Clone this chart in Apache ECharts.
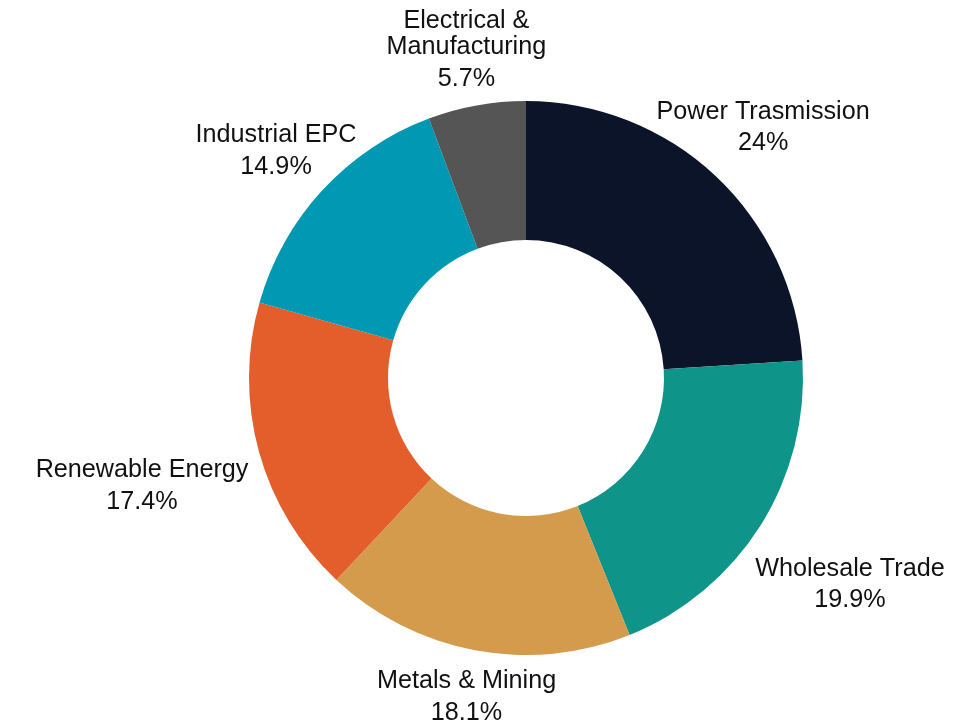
<!DOCTYPE html>
<html>
<head>
<meta charset="utf-8">
<script src="https://cdn.jsdelivr.net/npm/echarts@6/dist/echarts.min.js"></script>
<style>
  html, body { margin: 0; padding: 0; background: #ffffff; }
  #chart { width: 972px; height: 727px; }
</style>
</head>
<body>
<div id="chart"></div>
<script>
const categories = ["Power Trasmission", "Wholesale Trade", "Metals & Mining", "Renewable Energy", "Industrial EPC", "Electrical &\nManufacturing"];
const values = [24, 19.9, 18.1, 17.4, 14.9, 5.7];
const colors = ["#0c1429", "#0e9488", "#d59b4d", "#e45e2b", "#0098b3", "#555555"];

const cx = 526, cy = 378, rOuter = 277, rInner = 138;
const total = values.reduce((a, b) => a + b, 0);
const cum = [];
values.reduce((acc, v, i) => { cum[i] = acc; return acc + v; }, 0);

// small label placement nudges (styling only)
const labelNudge = { 0: [-2, 2], 1: [20, 13], 3: [-2, 0], 4: [3, 4], 5: [0, -1] };

const chart = echarts.init(document.getElementById('chart'), null, { renderer: 'canvas' });
chart.setOption({
  backgroundColor: '#ffffff',
  animation: false,
  series: [{
    type: 'pie',
    center: [cx, cy],
    radius: [rInner, rOuter],
    startAngle: 90,
    clockwise: true,
    avoidLabelOverlap: false,
    data: categories.map((n, i) => ({ name: n, value: values[i], itemStyle: { color: colors[i] } })),
    label: {
      show: true,
      position: 'outside',
      formatter: p => '{n|' + p.name + '}\n{v|' + p.value + '%}',
      rich: {
        n: { align: 'center', fontFamily: 'Liberation Sans, Arial, sans-serif', fontSize: 25.2, lineHeight: 26, color: '#111111' },
        v: { align: 'center', fontFamily: 'Liberation Sans, Arial, sans-serif', fontSize: 25.2, lineHeight: 37, color: '#111111' }
      }
    },
    labelLine: { show: false },
    emphasis: { disabled: true },
    labelLayout: function (p) {
      const i = p.dataIndex;
      const mid = (cum[i] + values[i] / 2) / total * 2 * Math.PI;
      const s = Math.sin(mid), c = Math.cos(mid);
      const w = p.labelRect.width, h = p.labelRect.height;
      const ell = Math.sqrt(Math.pow(s * w / 2, 2) + Math.pow(c * h / 2, 2));
      const ex = Math.min(Math.abs(s) > 1e-6 ? w / 2 / Math.abs(s) : 1e9, Math.abs(c) > 1e-6 ? h / 2 / Math.abs(c) : 1e9);
      const D = rOuter + 15 + (ell + ex) / 2;
      const nd = labelNudge[i] || [0, 0];
      return { x: cx + D * s + nd[0], y: cy - D * c + 5 + nd[1], align: 'center', verticalAlign: 'middle' };
    }
  }]
});
</script>
</body>
</html>
